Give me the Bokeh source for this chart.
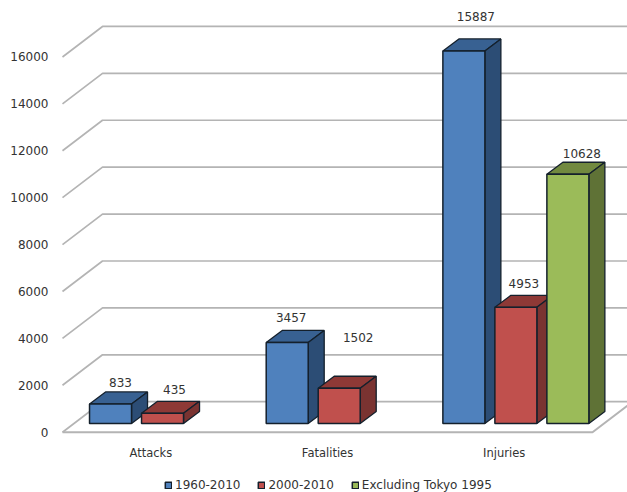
from bokeh.plotting import figure
from bokeh.models import Range1d, Legend, LegendItem, FixedTicker
from bokeh.core.properties import value
from bokeh.embed import file_html
from bokeh.resources import INLINE

categories = ["Attacks", "Fatalities", "Injuries"]
series_names = ["1960-2010", "2000-2010", "Excluding Tokyo 1995"]
series_1960_2010 = [833, 3457, 15887]
series_2000_2010 = [435, 1502, 4953]
series_excluding = [10628]
y_ticks = [0, 2000, 4000, 6000, 8000, 10000, 12000, 14000, 16000]

FONT = "DejaVu Sans"
TXT = "#333333"
GRID = "#b4b4b4"
OUT = "#14202c"

# scales (pixels per data unit)
PX_X = 176.67          # px per category
VAL_PER_PX = 42.64     # value per px
X0 = -0.5 - (62 - 52) / PX_X
X1 = -0.5 + (627 - 52 - 10) / PX_X
Y1 = 431.7 * VAL_PER_PX
Y0 = -(492 - 431.7) * VAL_PER_PX

def dx(px):
    return px / PX_X

def dy(px):
    return px * VAL_PER_PX

p = figure(width=627, height=492, output_backend="svg", toolbar_location=None,
           x_range=Range1d(X0, X1), y_range=Range1d(Y0, Y1), x_axis_location=None,
           min_border_left=52, min_border_right=0, min_border_top=0, min_border_bottom=0,
           outline_line_color=None, background_fill_color="white", border_fill_color="white")
p.grid.visible = False

# axes
p.yaxis.ticker = FixedTicker(ticks=y_ticks)
p.yaxis.axis_line_color = None
p.yaxis.major_tick_line_color = None
p.yaxis.minor_tick_line_color = None
p.yaxis.major_tick_out = 0
p.yaxis.major_tick_in = 0
p.yaxis.minor_tick_out = 0
p.yaxis.major_label_standoff = 4
p.yaxis.major_label_text_font = FONT
p.yaxis.major_label_text_font_size = "12px"
p.yaxis.major_label_text_color = TXT

# floor & walls
DX, DY = dx(40), dy(30.5)
for t in y_ticks:
    p.line([-0.5, -0.5 + DX, 2.5 + DX], [t, t + DY, t + DY], line_color=GRID, line_width=1.7)
p.line([-0.5, 2.5, 2.5 + DX], [0, 0, DY], line_color=GRID, line_width=2)

# category labels
p.text(x=[0, 1, 2], y=[dy(-20.3)] * 3, text=categories, text_align="center", text_baseline="middle",
       text_font=value(FONT), text_font_size="11.5px", text_color=TXT)

# bars
BAR_W = dx(42)
BAR_STEP = dx(52)
BAR_START = dx(-61.3)
BASE = dy(8.7)
DEPTH_X, DEPTH_Y = dx(16), dy(12)
colors = [("#4f81bd", "#386192", "#2c4d75"),
          ("#c0504d", "#8e3936", "#7a3331"),
          ("#9bbb59", "#71893f", "#5f7236")]
series = [([0, 1, 2], series_1960_2010), ([0, 1, 2], series_2000_2010), ([2], series_excluding)]

legend_items = []
for i, (cats, vals) in enumerate(series):
    front, top, side = colors[i]
    L = [c + BAR_START + i * BAR_STEP for c in cats]
    R = [l + BAR_W for l in L]
    T = [BASE + v for v in vals]
    p.patches([[l, r, r + DEPTH_X, l + DEPTH_X] for l, r in zip(L, R)],
              [[t, t, t + DEPTH_Y, t + DEPTH_Y] for t in T],
              fill_color=top, line_color=OUT, line_width=1.3)
    p.patches([[r, r + DEPTH_X, r + DEPTH_X, r] for r in R],
              [[BASE, BASE + DEPTH_Y, t + DEPTH_Y, t] for t in T],
              fill_color=side, line_color=OUT, line_width=1.3)
    r = p.quad(left=L, right=R, bottom=[BASE] * len(L), top=T,
               fill_color=front, line_color=OUT, line_width=1.5)
    legend_items.append(LegendItem(label=series_names[i], renderers=[r]))

# value labels: (px right of the bar's left edge, px above its rear top edge)
label_offsets = [[(31, 9), (25, 12.5), (33, 22)],
                 [(33, 12), (40, 38.5), (29, 12)],
                 [(35, 9)]]
lx, ly, lt = [], [], []
for i, (cats, vals) in enumerate(series):
    for c, v, (ox, oy) in zip(cats, vals, label_offsets[i]):
        lx.append(c + BAR_START + i * BAR_STEP + dx(ox))
        ly.append(BASE + v + DEPTH_Y + dy(oy))
        lt.append(str(v))
p.text(x=lx, y=ly, text=lt, text_align="center", text_baseline="middle",
       text_font=value(FONT), text_font_size="12px", text_color=TXT)

legend = Legend(items=legend_items, orientation="horizontal", location=(112, 0),
                border_line_color=None, background_fill_alpha=0,
                glyph_width=8, glyph_height=8, label_standoff=3, spacing=17,
                padding=0, margin=0, label_text_font=FONT, label_text_font_size="12px",
                label_text_color=TXT, label_height=12)
p.add_layout(legend, "center")

open("out.html", "w").write(file_html(p, INLINE))
